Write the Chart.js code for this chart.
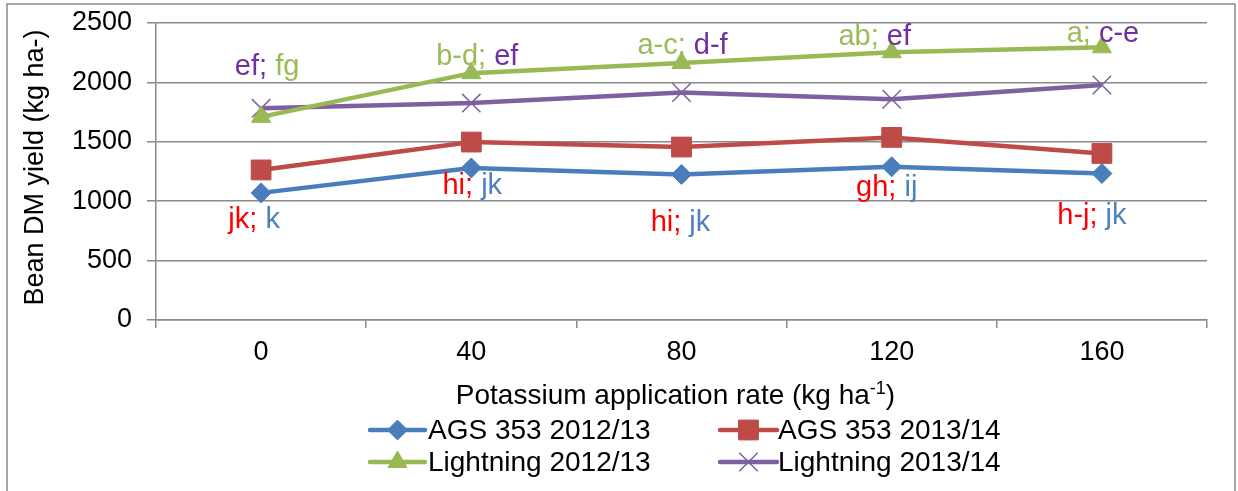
<!DOCTYPE html>
<html>
<head>
<meta charset="utf-8">
<script src="https://cdn.jsdelivr.net/npm/chart.js@4/dist/chart.umd.min.js"></script>
<style>
  html, body { margin: 0; padding: 0; background: #ffffff; }
  #wrap { width: 1238px; height: 491px; position: relative; }
</style>
</head>
<body>
<div id="wrap"><canvas id="c"></canvas></div>
<script>
// Potassium rates (kg/ha) on the category axis
const rates = ['0', '40', '80', '120', '160'];
const yTicks = [0, 500, 1000, 1500, 2000, 2500];

// Bean dry-matter yield (kg/ha) per cultivar and season
const ags2012 = [1070, 1280, 1225, 1290, 1233];
const ags2013 = [1263, 1498, 1456, 1537, 1402];
const lightning2012 = [1710, 2078, 2163, 2254, 2296];
const lightning2013 = [1782, 1826, 1915, 1858, 1978];

const seriesNames = ['AGS 353 2012/13', 'AGS 353 2013/14', 'Lightning 2012/13', 'Lightning 2013/14'];

// Mean separation letters (Lightning above, AGS 353 below)
const lightningLetters = [
  ['ef;', 'fg'], ['b-d;', 'ef'], ['a-c;', 'd-f'], ['ab;', 'ef'], ['a;', 'c-e']
];
const lightningLetterOrder = [
  ['p', 'g'], ['g', 'p'], ['g', 'p'], ['g', 'p'], ['g', 'p']
];
const agsLetters = [
  ['jk;', 'k'], ['hi;', 'jk'], ['hi;', 'jk'], ['gh;', 'ij'], ['h-j;', 'jk']
];

// ---- styling / layout ----
const FONT = '"Liberation Sans", Arial, Helvetica, sans-serif';
const GRID = '#8a8a8a';
const COLORS = ['#4A7EBB', '#BE4B48', '#98B954', '#7D60A0'];
const TEXT_COLORS = { r: '#FF0000', b: '#4F81BD', g: '#9BBB59', p: '#7030A0' };
// pixel nudges for the letter groups (dx, baseline offset)
const upperNudge = [[6, -33], [6, -8], [1, -9], [-17, -7], [1, -5]];
const lowerNudge = [[-7, 35], [1, 26], [-1, 57], [-5, 29], [-10, 50]];

const pointStyles = [
  { pointStyle: 'rectRot', radius: 10, borderWidth: 1 },
  { pointStyle: 'rect', radius: 14, borderWidth: 1 },
  { pointStyle: 'triangle', radius: 11, borderWidth: 1 },
  { pointStyle: 'crossRot', radius: 13, borderWidth: 1.5 }
];

const allSeries = [ags2012, ags2013, lightning2012, lightning2013];

const datasets = allSeries.map((vals, i) => ({
  label: seriesNames[i],
  data: vals,
  borderColor: COLORS[i],
  backgroundColor: COLORS[i],
  borderWidth: 4.5,
  tension: 0,
  pointStyle: pointStyles[i].pointStyle,
  pointRadius: pointStyles[i].radius,
  pointHoverRadius: pointStyles[i].radius,
  pointBorderWidth: pointStyles[i].borderWidth,
  pointBackgroundColor: COLORS[i],
  pointBorderColor: COLORS[i]
}));

function drawParts(ctx, parts, cx, baseline) {
  ctx.font = '29px ' + FONT;
  ctx.textBaseline = 'alphabetic';
  ctx.textAlign = 'left';
  const space = ctx.measureText(' ').width;
  const widths = parts.map(p => ctx.measureText(p.t).width);
  const total = widths.reduce((a, b) => a + b, 0) + space * (parts.length - 1);
  let x = cx - total / 2;
  parts.forEach((p, k) => {
    ctx.fillStyle = p.c;
    ctx.fillText(p.t, x, baseline);
    x += widths[k] + space;
  });
}

const decorations = {
  id: 'decorations',
  afterDraw(chart) {
    const ctx = chart.ctx;
    const xs = chart.scales.x;
    const ys = chart.scales.y;
    ctx.save();

    // outer frame
    ctx.strokeStyle = GRID;
    ctx.lineWidth = 1.5;
    ctx.strokeRect(7, 4, 1228, 492);

    // letter groups
    rates.forEach((_, i) => {
      const px = xs.getPixelForValue(i);
      const topY = Math.min(ys.getPixelForValue(lightning2012[i]), ys.getPixelForValue(lightning2013[i]));
      const ord = lightningLetterOrder[i];
      drawParts(ctx, [
        { t: lightningLetters[i][0], c: TEXT_COLORS[ord[0]] },
        { t: lightningLetters[i][1], c: TEXT_COLORS[ord[1]] }
      ], px + upperNudge[i][0], topY + upperNudge[i][1]);

      const lowY = ys.getPixelForValue(ags2012[i]);
      drawParts(ctx, [
        { t: agsLetters[i][0], c: TEXT_COLORS.r },
        { t: agsLetters[i][1], c: TEXT_COLORS.b }
      ], px + lowerNudge[i][0], lowY + lowerNudge[i][1]);
    });

    // y-axis title
    ctx.fillStyle = '#000000';
    ctx.font = '27px ' + FONT;
    ctx.save();
    ctx.translate(36, (chart.chartArea.top + chart.chartArea.bottom) / 2 - 4);
    ctx.rotate(-Math.PI / 2);
    ctx.textAlign = 'center';
    ctx.textBaseline = 'middle';
    ctx.fillText('Bean DM yield (kg ha-)', 0, 0);
    ctx.restore();

    // x-axis title with superscript
    const main = 'Potassium application rate (kg ha';
    const sup = '-1';
    const close = ')';
    ctx.textBaseline = 'alphabetic';
    ctx.textAlign = 'left';
    ctx.font = '28px ' + FONT;
    const wMain = ctx.measureText(main).width;
    const wClose = ctx.measureText(close).width;
    ctx.font = '18px ' + FONT;
    const wSup = ctx.measureText(sup).width;
    const total = wMain + wSup + wClose;
    const cx = (chart.chartArea.left + chart.chartArea.right) / 2 - 6;
    const x0 = cx - total / 2;
    const base = 404;
    ctx.font = '28px ' + FONT;
    ctx.fillText(main, x0, base);
    ctx.font = '18px ' + FONT;
    ctx.fillText(sup, x0 + wMain, base - 10);
    ctx.font = '28px ' + FONT;
    ctx.fillText(close, x0 + wMain + wSup, base);

    // legend, two columns
    const cols = [{ l1: 370, l2: 425, tx: 428 }, { l1: 720, l2: 777, tx: 778 }];
    const rows = [430, 462];
    chart.data.datasets.forEach((ds, i) => {
      const col = cols[i % 2];
      const y = rows[Math.floor(i / 2)];
      ctx.strokeStyle = ds.borderColor;
      ctx.lineWidth = 4.5;
      ctx.lineCap = 'round';
      ctx.beginPath();
      ctx.moveTo(col.l1, y);
      ctx.lineTo(col.l2, y);
      ctx.stroke();
      ctx.lineCap = 'butt';
      const mx = (col.l1 + col.l2) / 2;
      ctx.fillStyle = ds.backgroundColor;
      ctx.strokeStyle = ds.borderColor;
      ctx.lineWidth = ds.pointBorderWidth;
      Chart.helpers.drawPoint(ctx, {
        pointStyle: ds.pointStyle,
        radius: ds.pointRadius,
        borderWidth: ds.pointBorderWidth,
        rotation: 0
      }, mx, y);
      ctx.fillStyle = '#000000';
      ctx.font = '28px ' + FONT;
      ctx.textAlign = 'left';
      ctx.textBaseline = 'middle';
      ctx.fillText(ds.label, col.tx, y + 1);
    });

    ctx.restore();
  }
};

new Chart(document.getElementById('c'), {
  type: 'line',
  data: { labels: rates, datasets },
  options: {
    responsive: true,
    maintainAspectRatio: false,
    animation: false,
    events: [],
    layout: { padding: { left: 0, top: 23, right: 31, bottom: 0 } },
    plugins: { legend: { display: false }, tooltip: { enabled: false }, title: { display: false } },
    scales: {
      x: {
        type: 'category',
        offset: true,
        grid: { offset: true, drawOnChartArea: false, drawTicks: true, tickLength: 8, color: GRID, lineWidth: 1.5 },
        border: { display: true, color: GRID, width: 1.5 },
        ticks: { color: '#000000', font: { family: FONT, size: 27 }, padding: 8, maxRotation: 0 },
        afterFit(s) { s.height = 171; s.paddingLeft = 0; s.paddingRight = 0; }
      },
      y: {
        min: 0,
        max: 2500,
        afterBuildTicks(s) { s.ticks = yTicks.map(v => ({ value: v })); },
        grid: { color: GRID, lineWidth: 1.5, tickLength: 9 },
        border: { display: true, color: GRID, width: 1.5 },
        ticks: {
          color: '#000000',
          font: { family: FONT, size: 27 },
          padding: 15,
          callback: v => String(v)
        },
        afterFit(s) { s.width = 156; s.paddingTop = 0; s.paddingBottom = 0; }
      }
    }
  },
  plugins: [decorations]
});
</script>
</body>
</html>
